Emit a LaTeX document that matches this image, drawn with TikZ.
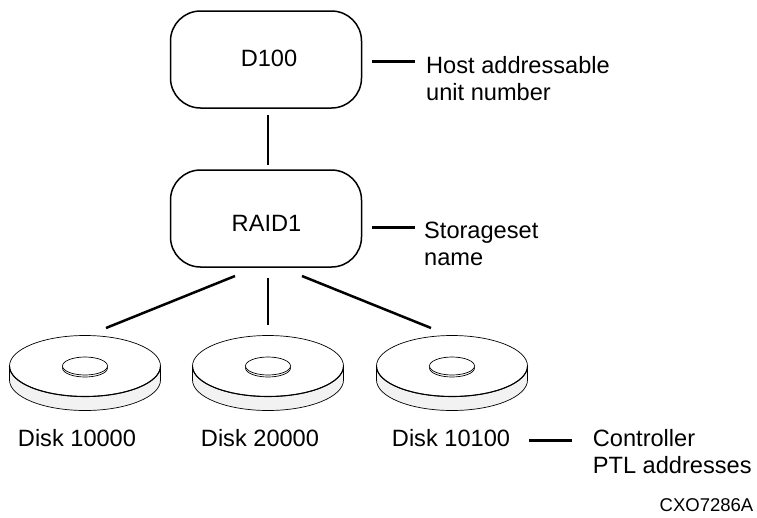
\documentclass[tikz,border=0pt]{standalone}
\usepackage{fontspec}
\setmainfont{Liberation Sans}
\tikzset{
  x=1pt,y=1pt,
  box/.style={draw=black,line width=1.5pt,rounded corners=30pt,minimum width=191pt,minimum height=97pt,inner sep=0pt},
  boxtext/.style={inner sep=0pt,anchor=base,font=\fontsize{23.6}{28}\selectfont},
  lbl/.style={inner sep=0pt,anchor=base west,font=\fontsize{23.6}{28}\selectfont},
  disklbl/.style={inner sep=0pt,anchor=base,font=\fontsize{23.6}{28}\selectfont},
  conn/.style={line width=2.5pt,black},
  rim/.style={draw=black,line width=0.7pt,fill=black!5},
  thin rim/.style={draw=black,line width=0.7pt,fill=white},
}
\newcommand{\diskshape}[1]{%
  \begin{scope}[shift={(#1,-366)}]
    \path[rim] (-75.5,0) -- (-75.5,-14) arc[start angle=180,end angle=360,x radius=75.5,y radius=30.5] -- (75.5,0) -- cycle;
    \path[thin rim] (0,0) ellipse[x radius=75.5,y radius=30.5];
    \draw[line width=1.1pt] (-75.5,0) arc[start angle=180,end angle=360,x radius=75.5,y radius=30.5];
    \path[thin rim] (0,-2) ellipse[x radius=22.5,y radius=9];
    \path[thin rim] (0,0) ellipse[x radius=22.5,y radius=9];
  \end{scope}}
\begin{document}
\begin{tikzpicture}
\useasboundingbox (0,0) rectangle (757,-517);
\node[box] (d100) at (266,-59.5) {};
\node[box] (raid) at (266,-218.5) {};
\node[boxtext] (d100t) at (269,-66.7) {D100};
\node[boxtext] (raidt) at (266.5,-231.7) {RAID1};
\diskshape{85}\diskshape{268}\diskshape{452}
\node[disklbl] (t1) at (77,-446.7) {Disk 10000};
\node[disklbl] (t2) at (260,-446.7) {Disk 20000};
\node[disklbl] (t3) at (451,-446.7) {Disk 10100};
\node[lbl] (host) at (426,-73.3) {Host addressable};
\node[lbl] (host2) at (426,-100.7) {unit number};
\node[lbl] (store) at (424,-238.3) {Storageset};
\node[lbl] (store2) at (424,-265) {name};
\node[lbl] (ptl) at (592.7,-446.7) {Controller};
\node[lbl] (ptl2) at (592.7,-473.3) {PTL addresses};
\node[inner sep=0pt,anchor=base east,font=\fontsize{18.5}{22}\selectfont] (code) at (753.5,-511) {CXO7286A};
\coordinate (a1) at (372,-61.7);\coordinate (a2) at (415,-61.7);
\coordinate (b1) at (372,-227.5);\coordinate (b2) at (415,-227.5);
\coordinate (c1) at (268,-115);\coordinate (c2) at (268,-165);
\coordinate (e0) at (268,-278);\coordinate (e1) at (268,-325);
\coordinate (f0) at (235,-276);\coordinate (f1) at (106,-328);
\coordinate (g0) at (302,-276);\coordinate (g1) at (431,-328);
\coordinate (h1) at (529,-440.7);\coordinate (h2) at (572,-440.7);
\draw[conn] (a1)--(a2);
\draw[conn] (b1)--(b2);
\draw[conn] (c1)--(c2);
\draw[conn] (e0)--(e1);
\draw[conn] (f0)--(f1);
\draw[conn] (g0)--(g1);
\draw[conn] (h1)--(h2);
\end{tikzpicture}
\end{document}
